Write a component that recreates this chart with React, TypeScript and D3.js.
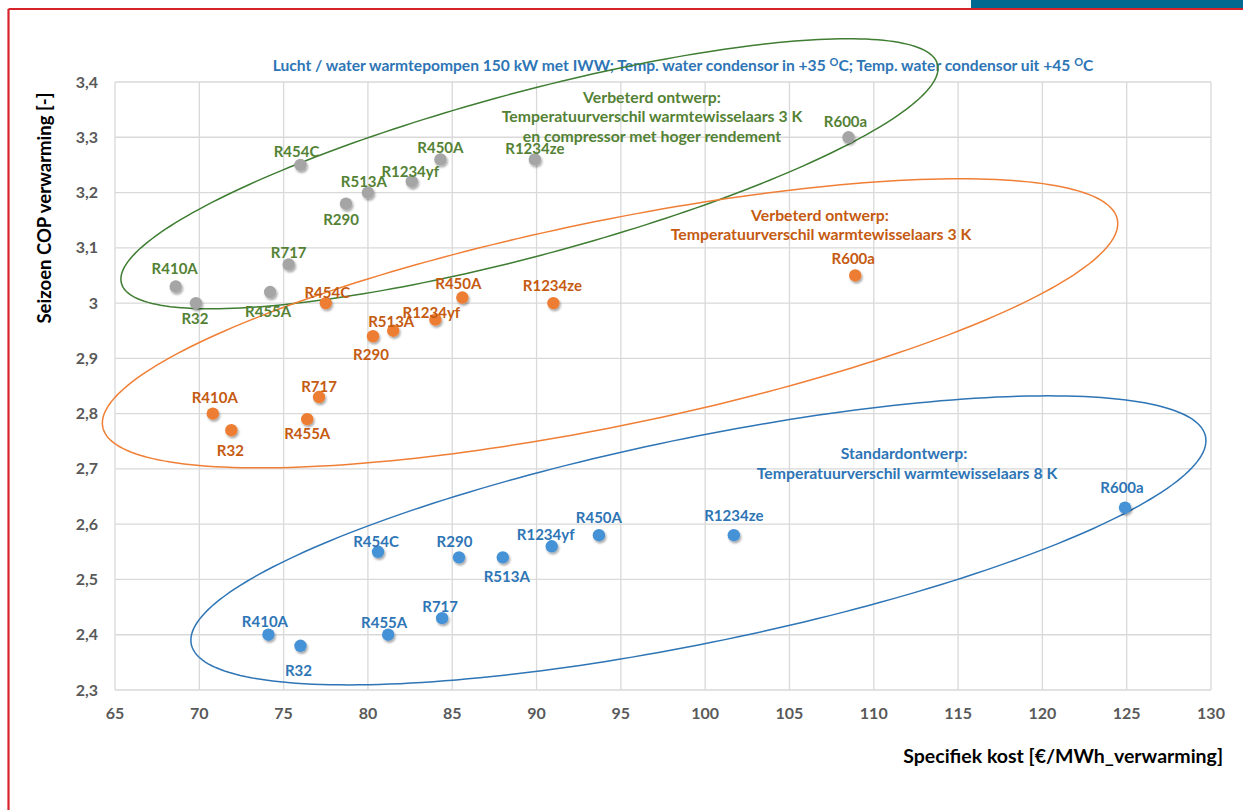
import React from "react";
import * as d3 from "d3";

// ---- data ----
const refrigerants = ["R410A", "R32", "R455A", "R717", "R454C", "R290", "R513A", "R1234yf", "R450A", "R1234ze", "R600a"];
// Verbeterd ontwerp + compressor (grey markers)
const costImprovedPlus = [68.6, 69.8, 74.2, 75.3, 76.0, 78.7, 80.0, 82.6, 84.3, 89.9, 108.5];
const copImprovedPlus = [3.03, 3.0, 3.02, 3.07, 3.25, 3.18, 3.2, 3.22, 3.26, 3.26, 3.3];
// Verbeterd ontwerp (orange markers)
const costImproved = [70.8, 71.9, 76.4, 77.1, 77.5, 80.3, 81.5, 84.0, 85.6, 91.0, 108.9];
const copImproved = [2.8, 2.77, 2.79, 2.83, 3.0, 2.94, 2.95, 2.97, 3.01, 3.0, 3.05];
// Standaardontwerp (blue markers)
const costStandard = [74.1, 76.0, 81.2, 84.4, 80.6, 85.4, 88.0, 90.9, 93.7, 101.7, 124.9];
const copStandard = [2.4, 2.38, 2.4, 2.43, 2.55, 2.54, 2.54, 2.56, 2.58, 2.58, 2.63];

const xTicks = [65, 70, 75, 80, 85, 90, 95, 100, 105, 110, 115, 120, 125, 130];
const yTicks = [2.3, 2.4, 2.5, 2.6, 2.7, 2.8, 2.9, 3.0, 3.1, 3.2, 3.3, 3.4];

// group ellipses in data units: centre x, centre y, half-width x, half-height y, correlation
const ellipseImprovedPlus = [89.58, 3.234, 24.23, 0.2443, 0.78];
const ellipseImproved = [94.36, 2.9634, 30.11, 0.2615, 0.69];
const ellipseStandard = [99.6, 2.5707, 30.1, 0.2615, 0.69];

// ---- label placement (pixel offsets of label centre from marker) ----
const offImprovedPlus = [[-1, -18], [-1, 15], [-2, 19], [0, -12], [-4, -13], [-5, 16], [-4, -11], [-1.5, -10], [0, -12], [0, -11], [-3, -15.5]];
const offImproved = [[2, -16], [-1, 20], [0, 14], [0, -11], [1.5, -11], [-2, 18], [-2, -9], [-4, -7.5], [-4, -14], [-1, -18], [-2, -17]];
const offStandard = [[-3.5, -13], [-2, 25], [-4, -12], [-2, -12], [-2, -10], [-4.5, -16], [4, 19], [-6, -12], [0, -18], [0, -20], [-3, -20]];

const W = 1243;
const H = 810;
const FONT = "Lato, 'Open Sans', sans-serif";

const x = d3.scaleLinear().domain([65, 130]).range([115, 1211]);
const y = d3.scaleLinear().domain([2.3, 3.4]).range([690, 82]);

function ellipsePath(p: number[]) {
  const [cx, cy, wx, wy, r] = p;
  const pts: [number, number][] = d3.range(0, 240).map((i) => {
    const t = (i / 240) * Math.PI * 2;
    const dx = cx + wx * Math.cos(t);
    const dy = cy + r * wy * Math.cos(t) + wy * Math.sqrt(1 - r * r) * Math.sin(t);
    return [x(dx), y(dy)];
  });
  return d3.line().curve(d3.curveLinearClosed)(pts) || "";
}

const series = [
  { cost: costImprovedPlus, cop: copImprovedPlus, off: offImprovedPlus, marker: "#a5a5a5", label: "#548235" },
  { cost: costImproved, cop: copImproved, off: offImproved, marker: "#ed7d31", label: "#c55a11" },
  { cost: costStandard, cop: copStandard, off: offStandard, marker: "#4592d6", label: "#2e75b6" },
];

const ellipses = [
  { p: ellipseImprovedPlus, color: "#3e7d32" },
  { p: ellipseImproved, color: "#f07f36" },
  { p: ellipseStandard, color: "#2e75b6" },
];

const fmt = (v: number) => (Math.abs(v - 3) < 1e-9 ? "3" : d3.format(".1f")(v).replace(".", ","));

export default function App() {
  return (
    <svg
      width={W}
      height={H}
      style={{ position: "absolute", left: 0, top: 0, background: "#fff" }}
      fontFamily={FONT}
    >
      <defs>
        <filter id="sh" x="-50%" y="-50%" width="200%" height="200%">
          <feDropShadow dx="1.2" dy="2" stdDeviation="1.3" floodColor="#000" floodOpacity="0.35" />
        </filter>
      </defs>
      <rect x={0} y={0} width={W} height={H} fill="#fff" />
      {/* frame */}
      <rect x={971} y={0} width={272} height={8} fill="#00698f" />
      <line x1={8.5} y1={9} x2={W} y2={9} stroke="#d7232a" strokeWidth={2.2} />
      <line x1={8.5} y1={9} x2={8.5} y2={H} stroke="#d7232a" strokeWidth={2.2} />

      {/* grid */}
      {xTicks.map((t) => (
        <line key={"gx" + t} x1={x(t)} x2={x(t)} y1={y(3.4)} y2={y(2.3)} stroke="#d9d9d9" strokeWidth={1.3} />
      ))}
      {yTicks.map((t) => (
        <line key={"gy" + t} x1={x(65)} x2={x(130)} y1={y(t)} y2={y(t)} stroke="#d9d9d9" strokeWidth={1.3} />
      ))}

      {/* tick labels */}
      {yTicks.map((t) => (
        <text key={"ty" + t} x={98} y={y(t) + 5.5} textAnchor="end" fontSize={16} fontWeight={700} fill="#595959">
          {fmt(t)}
        </text>
      ))}
      {xTicks.map((t) => (
        <text key={"tx" + t} x={x(t)} y={719} textAnchor="middle" fontSize={16} fontWeight={700} fill="#595959">
          {t}
        </text>
      ))}

      {/* axis titles */}
      <text x={1223} y={763} textAnchor="end" fontSize={19.5} fontWeight={700} fill="#000">
        Specifiek kost [€/MWh_verwarming]
      </text>
      <text transform="translate(51,208) rotate(-90)" textAnchor="middle" fontSize={18.5} fontWeight={700} fill="#000">
        Seizoen COP verwarming [-]
      </text>

      {/* title */}
      <text x={683} y={71} textAnchor="middle" fontSize={15.6} fontWeight={700} fill="#2e75b6">
        Lucht / water warmtepompen 150 kW met IWW; Temp. water condensor in +35{" "}
        <tspan fontSize={11} dy={-5}>O</tspan>
        <tspan dy={5}>C; Temp. water condensor uit +45 </tspan>
        <tspan fontSize={11} dy={-5}>O</tspan>
        <tspan dy={5}>C</tspan>
      </text>

      {/* ellipses */}
      {ellipses.map((e, i) => (
        <path key={"el" + i} d={ellipsePath(e.p)} fill="none" stroke={e.color} strokeWidth={1.5} />
      ))}

      {/* annotations */}
      <g fontSize={15.8} fontWeight={700} textAnchor="middle" fill="#548235">
        <text x={652} y={103}>Verbeterd ontwerp:</text>
        <text x={652} y={122}>Temperatuurverschil warmtewisselaars 3 K</text>
        <text x={652} y={142}>en compressor met hoger rendement</text>
      </g>
      <g fontSize={15.8} fontWeight={700} textAnchor="middle" fill="#c55a11">
        <text x={820} y={221}>Verbeterd ontwerp:</text>
        <text x={821} y={240}>Temperatuurverschil warmtewisselaars 3 K</text>
      </g>
      <g fontSize={15.8} fontWeight={700} textAnchor="middle" fill="#2e75b6">
        <text x={904} y={459}>Standardontwerp:</text>
        <text x={907} y={479}>Temperatuurverschil warmtewisselaars 8 K</text>
      </g>

      {/* markers */}
      {series.map((s, si) => (
        <g key={"s" + si}>
          {s.cost.map((c, i) => (
            <circle key={i} cx={x(c)} cy={y(s.cop[i])} r={6.2} fill={s.marker} filter="url(#sh)" />
          ))}
        </g>
      ))}
      {/* labels */}
      {series.map((s, si) => (
        <g key={"l" + si} fontSize={15} fontWeight={700} fill={s.label} textAnchor="middle">
          {s.cost.map((c, i) => (
            <text key={i} x={x(c) + s.off[i][0]} y={y(s.cop[i]) + s.off[i][1] + 5.5}>
              {refrigerants[i]}
            </text>
          ))}
        </g>
      ))}
    </svg>
  );
}
